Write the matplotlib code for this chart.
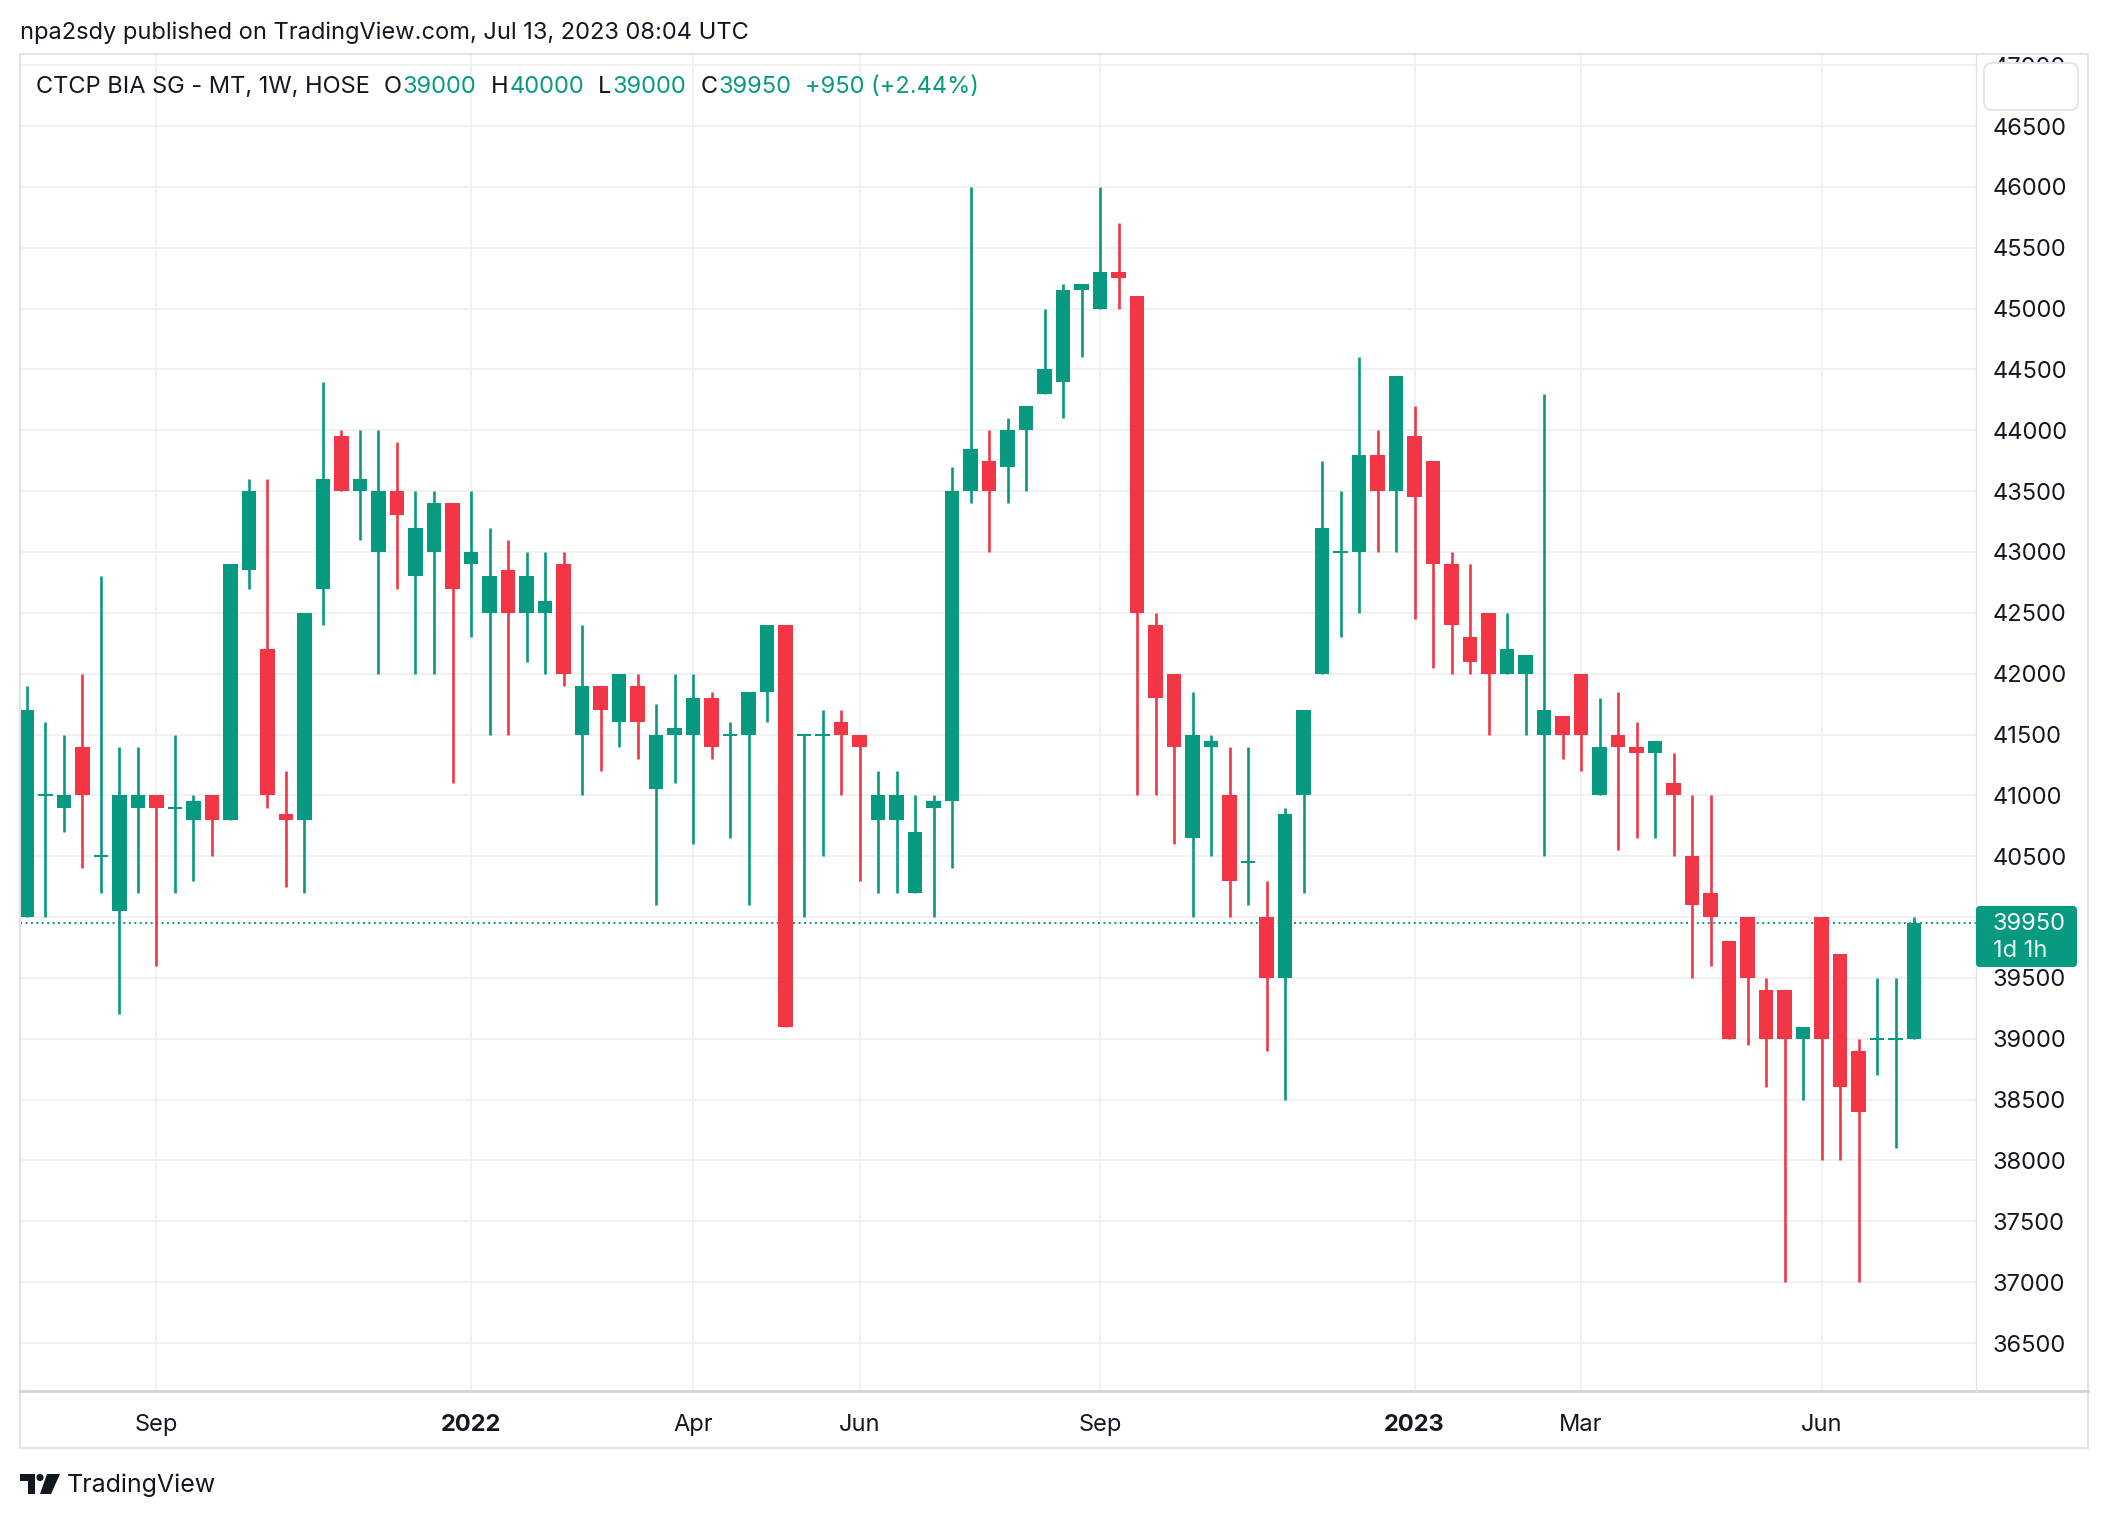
import numpy as np
import matplotlib
matplotlib.use('Agg')
import matplotlib.pyplot as plt
from matplotlib.patches import Rectangle, FancyBboxPatch, Polygon, Circle
from matplotlib.lines import Line2D
from matplotlib.transforms import IdentityTransform

plt.rcParams['font.family'] = ['Inter', 'DejaVu Sans']

# weekly candles, CTCP BIA SG - MT (HOSE), Jul 2021 -> Jul 2023
opens = [40000, 41000, 40900, 41400, 40500, 40050, 40900, 41000, 40900, 40800,
         41000, 40800, 42850, 42200, 40850, 40800, 42700, 43950, 43500, 43000,
         43500, 42800, 43000, 43400, 42900, 42500, 42850, 42500, 42500, 42900,
         41500, 41900, 41600, 41900, 41050, 41500, 41500, 41800, 41500, 41500,
         41850, 42400, 41500, 41500, 41600, 41500, 40800, 40800, 40200, 40900,
         40950, 43500, 43750, 43700, 44000, 44300, 44400, 45150, 45000, 45300,
         45100, 42400, 42000, 40650, 41400, 41000, 40450, 40000, 39500, 41000,
         42000, 43000, 43000, 43800, 43500, 43950, 43750, 42900, 42300, 42500,
         42000, 42000, 41500, 41650, 42000, 41000, 41500, 41400, 41350, 41100,
         40500, 40200, 39800, 40000, 39400, 39400, 39000, 40000, 39700, 38900,
         39000, 39000, 39000]
highs = [41900, 41600, 41500, 42000, 42800, 41400, 41400, 41000, 41500, 41000,
         41000, 42900, 43600, 43600, 41200, 42500, 44400, 44000, 44000, 44000,
         43900, 43500, 43500, 43400, 43500, 43200, 43100, 43000, 43000, 43000,
         42400, 41900, 42000, 42000, 41750, 42000, 42000, 41850, 41600, 41850,
         42400, 42400, 41500, 41700, 41700, 41500, 41200, 41200, 41000, 41000,
         43700, 46000, 44000, 44100, 44200, 45000, 45200, 45200, 46000, 45700,
         45100, 42500, 42000, 41850, 41500, 41400, 41400, 40300, 40900, 41700,
         43750, 43500, 44600, 44000, 44450, 44200, 43750, 43000, 42900, 42500,
         42500, 42150, 44300, 41650, 42000, 41800, 41850, 41600, 41450, 41350,
         41000, 41000, 39800, 40000, 39500, 39400, 39100, 40000, 39700, 39000,
         39500, 39500, 40000]
lows = [40000, 40000, 40700, 40400, 40200, 39200, 40200, 39600, 40200, 40300,
        40500, 40800, 42700, 40900, 40250, 40200, 42400, 43500, 43100, 42000,
        42700, 42000, 42000, 41100, 42300, 41500, 41500, 42100, 42000, 41900,
        41000, 41200, 41400, 41300, 40100, 41100, 40600, 41300, 40650, 40100,
        41600, 39100, 40000, 40500, 41000, 40300, 40200, 40200, 40200, 40000,
        40400, 43400, 43000, 43400, 43500, 44300, 44100, 44600, 45000, 45000,
        41000, 41000, 40600, 40000, 40500, 40000, 40100, 38900, 38500, 40200,
        42000, 42300, 42500, 43000, 43000, 42450, 42050, 42000, 42000, 41500,
        42000, 41500, 40500, 41300, 41200, 41000, 40550, 40650, 40650, 40500,
        39500, 39600, 39000, 38950, 38600, 37000, 38500, 38000, 38000, 37000,
        38700, 38100, 39000]
closes = [41700, 41000, 41000, 41000, 40500, 41000, 41000, 40900, 40900, 40950,
          40800, 42900, 43500, 41000, 40800, 42500, 43600, 43500, 43600, 43500,
          43300, 43200, 43400, 42700, 43000, 42800, 42500, 42800, 42600, 42000,
          41900, 41700, 42000, 41600, 41500, 41550, 41800, 41400, 41500, 41850,
          42400, 39100, 41500, 41500, 41500, 41400, 41000, 41000, 40700, 40950,
          43500, 43850, 43500, 44000, 44200, 44500, 45150, 45200, 45300, 45250,
          42500, 41800, 41400, 41500, 41450, 40300, 40450, 39500, 40850, 41700,
          43200, 43000, 43800, 43500, 44450, 43450, 42900, 42400, 42100, 42000,
          42200, 42150, 41700, 41500, 41500, 41400, 41400, 41350, 41450, 41000,
          40100, 40000, 39000, 39500, 39000, 39000, 39100, 39000, 38600, 38400,
          39000, 39000, 39950]

tick_pos = [7, 24, 36, 45, 58, 75, 84, 97]
tick_labels = ['Sep', '2022', 'Apr', 'Jun', 'Sep', '2023', 'Mar', 'Jun']
price_ticks = list(range(36500, 47001, 500))
last_price = 39950

GREEN = '#089981'
RED = '#F23645'
TEXT = '#131722'
GRID = '#F0F1F3'
BORDER = '#E0E3EB'
FS = 17

W, H = 2108, 1518
fig = plt.figure(figsize=(W / 100, H / 100), dpi=100)
fig.patch.set_facecolor('white')
PX = IdentityTransform()


def box(x0, y0, x1, y1):
    return [x0 / W, 1 - y1 / H, (x1 - x0) / W, (y1 - y0) / H]


ax = fig.add_axes(box(20, 54, 1976, 1391))
for s in ax.spines.values():
    s.set_visible(False)

x = np.arange(len(opens))
o = np.array(opens, float)
c = np.array(closes, float)
colors = [GREEN if cc >= oo else RED for oo, cc in zip(o, c)]

ax.vlines(x, lows, highs, colors=colors, lw=1.9, zorder=3)
body = np.maximum(np.abs(c - o), 16)
bottom = np.minimum(o, c) - np.where(np.abs(c - o) < 16, 8, 0)
ax.bar(x, body, bottom=bottom, width=0.76, color=colors, zorder=4, linewidth=0)

ax.axhline(last_price, color=GREEN, lw=1.4, ls=(0, (1, 1.8)), zorder=2)

ax.set_xlim(-0.378, 105.35)
ax.set_ylim(36106, 47092)
ax.set_yticks(price_ticks)
# the tick right under the last-price tag is hidden by it, as on the source
ax.set_yticklabels(['' if abs(v - last_price) < 250 else str(v) for v in price_ticks])
ax.set_xticks(tick_pos)
ax.set_xticklabels(tick_labels)
ax.yaxis.tick_right()
ax.grid(True, color=GRID, lw=1.4, zorder=0)
ax.tick_params(axis='y', length=0, pad=12, labelsize=FS, labelcolor=TEXT)
ax.tick_params(axis='x', length=0, pad=16.5, labelsize=FS, labelcolor=TEXT)
for lab in ax.get_xticklabels():
    if lab.get_text() in ('2022', '2023'):
        lab.set_fontweight('bold')

# frame and separators
fig.add_artist(Rectangle((20, H - 1448), 2068, 1394, transform=PX, fill=False,
                         edgecolor=BORDER, lw=1.5, zorder=1))
fig.add_artist(Line2D([20, 2088], [H - 1391, H - 1391], transform=PX,
                      color='#D1D4DC', lw=2))
fig.add_artist(Line2D([1976, 1976], [H - 54, H - 1391], transform=PX,
                      color=BORDER, lw=1.0))

# covering button on top of price scale
fig.add_artist(FancyBboxPatch((1984, H - 110), 94, 47, transform=PX,
                              boxstyle='round,pad=0,rounding_size=8',
                              fc='white', ec=BORDER, lw=1.3, zorder=10))

# last price label
fig.add_artist(FancyBboxPatch((1976, H - 967), 101, 61, transform=PX,
                              boxstyle='round,pad=0,rounding_size=4',
                              fc=GREEN, ec='none', zorder=10))
fig.text(1993 / W, 1 - 924 / H, f'{last_price}', color='white', fontsize=FS,
         va='center', ha='left', zorder=11)
fig.text(1993 / W, 1 - 951 / H, '1d 1h', color='#E6F4F1', fontsize=FS,
         va='center', ha='left', zorder=11)

# header
fig.text(20 / W, 1 - 33 / H, 'npa2sdy published on TradingView.com, Jul 13, 2023 08:04 UTC',
         color=TEXT, fontsize=FS, va='center', ha='left')

# legend line
renderer = fig.canvas.get_renderer()
pieces = [('CTCP BIA SG - MT, 1W, HOSE', TEXT, 13),
          ('O', TEXT, 0), ('39000', GREEN, 13),
          ('H', TEXT, 0), ('40000', GREEN, 13),
          ('L', TEXT, 0), ('39000', GREEN, 13),
          ('C', TEXT, 0), ('39950', GREEN, 13),
          ('+950 (+2.44%)', GREEN, 0)]
xp = 36
for txt, col, gap in pieces:
    t = fig.text(xp / W, 1 - 87 / H, txt, color=col, fontsize=FS, va='center', ha='left')
    bb = t.get_window_extent(renderer)
    xp += bb.width + gap + 1

# TradingView logo
fig.add_artist(Polygon([(20, H - 1474), (35, H - 1474), (35, H - 1494), (28, H - 1494),
                        (28, H - 1481), (20, H - 1481)], closed=True, transform=PX,
                       fc=TEXT, ec='none'))
fig.add_artist(Circle((40, H - 1477.5), 3.6, transform=PX, fc=TEXT, ec='none'))
fig.add_artist(Polygon([(47, H - 1474), (60, H - 1474), (51, H - 1494), (40, H - 1494)],
                       closed=True, transform=PX, fc=TEXT, ec='none'))
fig.text(67 / W, 1 - 1485 / H, 'TradingView', color=TEXT, fontsize=18,
         va='center', ha='left')

fig.savefig('out.png', dpi=100, facecolor='white')
